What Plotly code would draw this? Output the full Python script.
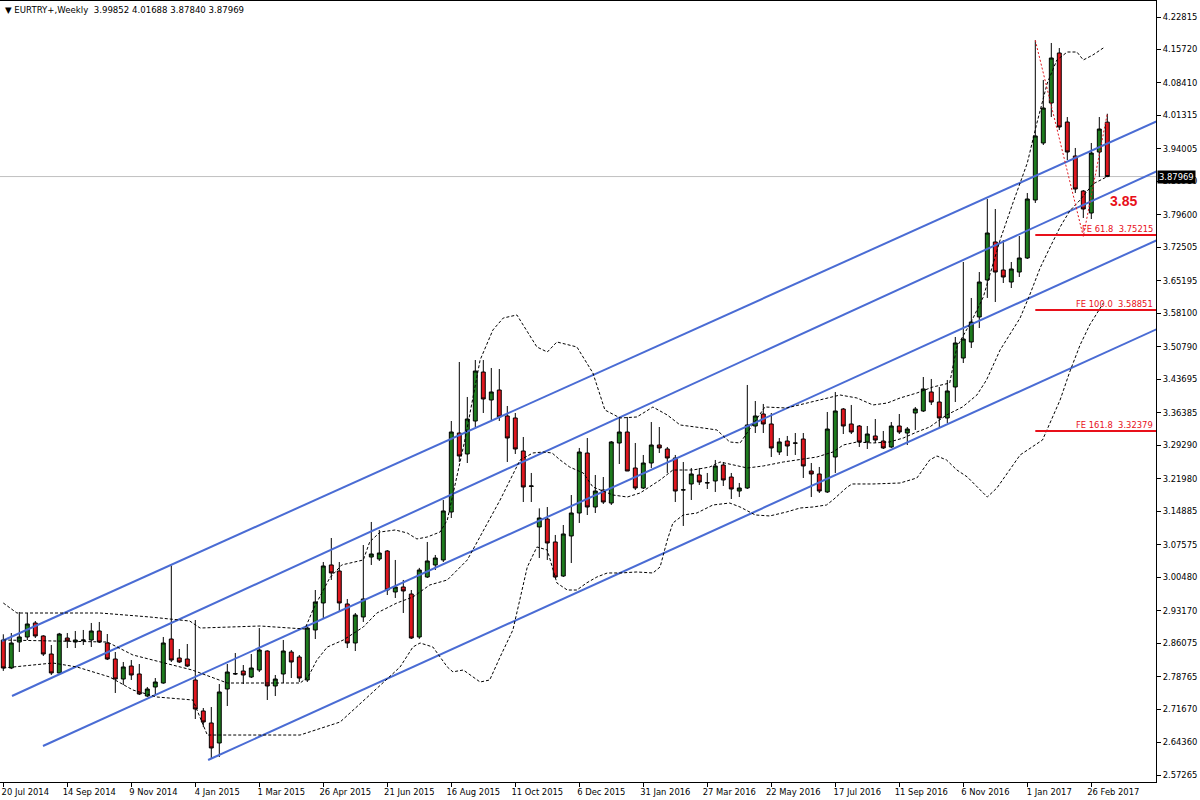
import plotly.graph_objects as go

# ---------------- data ----------------
tick_bars = [0, 8, 16, 24, 32, 40, 48, 56, 64, 72, 80, 88, 96, 104, 112, 120, 128, 136]
tick_labels = ["20 Jul 2014", "14 Sep 2014", "9 Nov 2014", "4 Jan 2015", "1 Mar 2015",
               "26 Apr 2015", "21 Jun 2015", "16 Aug 2015", "11 Oct 2015", "6 Dec 2015",
               "31 Jan 2016", "27 Mar 2016", "22 May 2016", "17 Jul 2016", "11 Sep 2016",
               "6 Nov 2016", "1 Jan 2017", "26 Feb 2017"]

price_ticks = [4.22815, 4.15720, 4.08410, 4.01315, 3.94005, 3.86910, 3.79600, 3.72505,
               3.65195, 3.58100, 3.50790, 3.43695, 3.36385, 3.29290, 3.21980, 3.14885,
               3.07575, 3.00480, 2.93170, 2.86075, 2.78765, 2.71670, 2.64360, 2.57265]

opens = [2.8675, 2.8064, 2.8631, 2.8741, 2.9047, 2.8763, 2.8369, 2.7955, 2.8719, 2.8631,
         2.8660, 2.8675, 2.8872, 2.8610, 2.8260, 2.7823, 2.8107, 2.7933, 2.7452, 2.7649,
         2.7736, 2.8697, 2.8282, 2.8260, 2.7802, 2.7125, 2.6863, 2.6426, 2.7605, 2.7933,
         2.7998, 2.7867, 2.8020, 2.8435, 2.7671, 2.7933, 2.8413, 2.8304, 2.7802, 2.8894,
         2.9484, 3.0314, 3.0182, 2.9462, 2.8610, 2.9178, 3.0488, 3.0444, 3.0619, 2.9724,
         2.9833, 2.9680, 2.8741, 3.0051, 3.0314, 3.0423, 3.1471, 3.3196, 3.2738, 3.3458,
         3.4528, 3.3917, 3.4135, 3.3568, 3.3524, 3.2803, 3.2030, 3.1144, 3.1318, 3.0816,
         3.0073, 3.0947, 3.1449, 3.2759, 3.1580, 3.1951, 3.1667, 3.2978, 3.3218, 3.2432,
         3.1995, 3.2541, 3.2934, 3.2847, 3.2650, 3.1951, 3.2083, 3.2279, 3.2105, 3.2148,
         3.2497, 3.2235, 3.1929, 3.1995, 3.3349, 3.3611, 3.3393, 3.2781, 3.3021, 3.2978,
         3.3065, 3.2366, 3.2301, 3.1908, 3.2672, 3.3720, 3.3393, 3.3349, 3.3000, 3.3131,
         3.3021, 3.2891, 3.3349, 3.3196, 3.3633, 3.3677, 3.4092, 3.3873, 3.3524, 3.4201,
         3.4834, 3.5184, 3.5730, 3.6538, 3.7368, 3.6756, 3.6494, 3.6712, 3.7018, 3.8285,
         3.9530, 4.0403, 4.1495, 3.9988, 3.9246, 3.8481, 3.8001, 3.9333, 3.99852]
highs = [2.8800, 2.8828, 2.9287, 2.9265, 2.9090, 2.8780, 2.8566, 2.8830, 2.8828, 2.8872,
         2.8894, 2.9047, 2.9069, 2.8806, 2.8413, 2.8195, 2.8238, 2.8151, 2.7649, 2.7845,
         2.8741, 3.0300, 2.8479, 2.8588, 2.9112, 2.7190, 2.7212, 2.7714, 2.8151, 2.8391,
         2.8129, 2.8369, 2.8937, 2.8450, 2.7911, 2.8675, 2.8457, 2.8348, 2.8959, 2.9767,
         3.0379, 3.0903, 3.0379, 2.9571, 2.9265, 3.0750, 3.1253, 3.1078, 3.0640, 3.0423,
         2.9986, 2.9767, 3.0250, 3.0816, 3.0532, 3.1733, 3.3458, 3.4747, 3.3983, 3.4790,
         3.4790, 3.4616, 3.4594, 3.3786, 3.3633, 3.3109, 3.2323, 3.1550, 3.1580, 3.0969,
         3.1187, 3.1842, 3.2869, 3.3087, 3.2279, 3.2235, 3.3021, 3.3524, 3.3546, 3.2978,
         3.2716, 3.3436, 3.3327, 3.2891, 3.2716, 3.2563, 3.2432, 3.2432, 3.2323, 3.2607,
         3.2563, 3.2323, 3.2105, 3.4245, 3.3895, 3.3830, 3.3633, 3.3087, 3.3131, 3.3196,
         3.3196, 3.2541, 3.2454, 3.3655, 3.4092, 3.3742, 3.3808, 3.3371, 3.3349, 3.3502,
         3.3240, 3.3436, 3.3611, 3.3327, 3.3764, 3.4419, 3.4376, 3.4201, 3.4354, 3.5293,
         3.6931, 3.6145, 3.6712, 3.8307, 3.8088, 3.7411, 3.6931, 3.7499, 3.8438, 4.1772,
         4.0906, 4.1714, 4.1604, 4.0097, 3.9421, 3.8503, 3.9530, 4.0097, 4.01688]
lows = [2.8000, 2.8040, 2.8413, 2.8675, 2.8719, 2.8326, 2.7911, 2.7911, 2.8500, 2.8500,
        2.8566, 2.8522, 2.8610, 2.8238, 2.7518, 2.7693, 2.7802, 2.7474, 2.7430, 2.7474,
        2.7720, 2.8195, 2.8173, 2.8086, 2.6950, 2.6775, 2.6098, 2.6120, 2.7234, 2.7911,
        2.7714, 2.7845, 2.7976, 2.7365, 2.7452, 2.7736, 2.7845, 2.7758, 2.7758, 2.8697,
        2.9156, 2.9986, 2.9309, 2.8500, 2.8435, 2.9069, 3.0314, 3.0401, 2.9658, 2.9593,
        2.9265, 2.8697, 2.8700, 3.0030, 3.0204, 3.0379, 3.1340, 3.2563, 3.2541, 3.3327,
        3.3633, 3.3480, 3.3458, 3.2563, 3.2738, 3.1689, 3.1689, 3.0466, 3.0423, 3.0029,
        3.0051, 3.0357, 3.1231, 3.1405, 3.1449, 3.1646, 3.1624, 3.2519, 3.2366, 3.1951,
        3.1973, 3.2432, 3.2759, 3.2323, 3.1689, 3.1166, 3.1733, 3.2061, 3.1973, 3.1908,
        3.2039, 3.1755, 3.1798, 3.1973, 3.3196, 3.3196, 3.2672, 3.2716, 3.2694, 3.2716,
        3.2214, 3.1798, 3.1886, 3.1886, 3.2323, 3.3174, 3.3174, 3.2891, 3.2847, 3.2978,
        3.2847, 3.2869, 3.3174, 3.2934, 3.3262, 3.3655, 3.3808, 3.3327, 3.3415, 3.3873,
        3.4725, 3.5053, 3.5489, 3.6145, 3.6057, 3.6472, 3.6363, 3.6603, 3.6996, 3.8220,
        3.9486, 4.0097, 3.9813, 3.9158, 3.8438, 3.7892, 3.7870, 3.8787, 3.87840]
closes = [2.8064, 2.8610, 2.8741, 2.9025, 2.8763, 2.8369, 2.7955, 2.8806, 2.8653, 2.8675,
          2.8675, 2.8872, 2.8631, 2.8260, 2.7823, 2.8086, 2.7911, 2.7496, 2.7605, 2.7758,
          2.8610, 2.8238, 2.8195, 2.8107, 2.7168, 2.6885, 2.6317, 2.7540, 2.7976, 2.7940,
          2.7911, 2.8064, 2.8457, 2.7671, 2.7823, 2.8435, 2.8195, 2.7845, 2.8937, 2.9506,
          3.0292, 3.0139, 2.9484, 2.8610, 2.9221, 2.9571, 3.0554, 3.0575, 2.9767, 2.9833,
          2.9746, 2.8719, 3.0204, 3.0401, 3.0466, 3.1493, 3.3218, 3.2694, 3.3502, 3.4550,
          3.3939, 3.4092, 3.3546, 3.3087, 3.2847, 3.2017, 3.2039, 3.1340, 3.0794, 3.0051,
          3.0991, 3.1449, 3.2781, 3.1580, 3.1929, 3.1689, 3.3000, 3.3218, 3.2366, 3.1995,
          3.2541, 3.2934, 3.2869, 3.2650, 3.1929, 3.1955, 3.2301, 3.2126, 3.2110, 3.2476,
          3.2170, 3.1973, 3.1995, 3.3371, 3.3568, 3.3393, 3.2869, 3.3000, 3.2912, 3.2975,
          3.2476, 3.2301, 3.1929, 3.3283, 3.3677, 3.3349, 3.3218, 3.3000, 3.3174, 3.3043,
          3.2869, 3.3349, 3.3218, 3.3283, 3.3720, 3.4158, 3.3873, 3.3524, 3.4114, 3.5162,
          3.5249, 3.5620, 3.6494, 3.7564, 3.6712, 3.6603, 3.6778, 3.7018, 3.8307, 3.9683,
          4.0294, 4.1386, 3.9879, 3.9333, 3.8525, 3.8088, 3.9311, 3.9835, 3.87969]

# Bollinger bands (dotted), read as (bar, price) pairs
bb_upper_bar = [0, 1.7, 12.1, 18.3, 23.3, 24.6, 32.1, 37.7, 38.7, 40.0, 40.8, 42.3, 45.0, 45.8,
                47.1, 49.0, 50.5, 51.7, 53.0, 54.6, 55.5, 57.7, 59.6, 61.2, 62.5, 64.2, 65.5,
                66.7, 68.0, 69.2, 71.7, 73.7, 75.2, 77.1, 79.2, 81.2, 83.0, 84.6, 87.5, 89.2,
                90.8, 92.1, 95.2, 97.9, 104.6, 106.7, 108.7, 110.5, 112.1, 114.2, 116.2, 118.3,
                119.2, 121.1, 122.5, 124.6, 126.2, 128.0, 129.2, 130.5, 131.7, 133.0, 134.2,
                135.0, 136.2, 137.5]
bb_upper = [2.9483, 2.9265, 2.9265, 2.9178, 2.9090, 2.8937, 2.8981, 2.8915, 2.9331, 2.9767,
            3.0030, 3.0314, 3.0423, 3.0816, 3.1034, 3.1078, 3.1012, 3.0882, 3.0925, 3.1034,
            3.1296, 3.3043, 3.4790, 3.5446, 3.5708, 3.5774, 3.5402, 3.5075, 3.4965, 3.5184,
            3.5075, 3.4507, 3.3699, 3.3524, 3.3546, 3.3764, 3.3589, 3.3371, 3.3305, 3.3262,
            3.3000, 3.2978, 3.3764, 3.3742, 3.4026, 3.3961, 3.3808, 3.3851, 3.3961, 3.4070,
            3.4201, 3.4288, 3.5075, 3.5664, 3.6166, 3.7411, 3.8219, 3.9093, 3.9966, 4.0840,
            4.1343, 4.1517, 4.1517, 4.1343, 4.1452, 4.1605]

bb_middle_bar = [0, 13.0, 16.2, 18.7, 23.6, 28.0, 37.1, 38.1, 39.2, 40.5, 42.5, 45.0, 46.7,
                 49.2, 51.2, 53.3, 55.5, 58.0, 59.6, 62.1, 64.6, 66.2, 67.5, 68.6, 69.6, 70.8,
                 72.5, 73.7, 76.2, 78.0, 79.6, 82.1, 83.7, 86.2, 88.3, 89.6, 93.0, 95.0, 97.5,
                 99.2, 101.7, 103.7, 105.0, 106.7, 108.7, 110.8, 112.5, 114.2, 115.8, 117.9,
                 119.9, 121.7, 122.9, 124.6, 125.8, 127.1, 128.3, 129.6, 130.8, 132.1, 133.3,
                 134.6, 136.2, 137.9]
bb_middle = [2.8675, 2.8631, 2.8348, 2.8238, 2.8020, 2.7736, 2.7736, 2.7867, 2.8238, 2.8522,
             2.8675, 2.8959, 2.9265, 2.9484, 2.9614, 2.9877, 2.9986, 3.0423, 3.0925, 3.1733,
             3.2607, 3.2760, 3.2781, 3.2760, 3.2607, 3.2453, 3.2322, 3.2017, 3.1842, 3.1798,
             3.1886, 3.2170, 3.2388, 3.2388, 3.2453, 3.2563, 3.2432, 3.2476, 3.2563, 3.2607,
             3.2672, 3.2781, 3.2934, 3.3000, 3.2978, 3.3000, 3.3087, 3.3218, 3.3327, 3.3589,
             3.3764, 3.4026, 3.4354, 3.5009, 3.5337, 3.5708, 3.6210, 3.6800, 3.7237, 3.7695,
             3.8045, 3.8285, 3.8634, 3.8787]

bb_lower_bar = [0, 6.2, 9.2, 13.3, 16.2, 19.2, 23.7, 24.2, 25.5, 37.1, 42.1, 45.8, 49.6, 51.2,
                52.1, 53.7, 55.5, 56.2, 57.5, 59.6, 60.8, 62.1, 63.7, 65.5, 66.7, 68.0, 69.2,
                70.5, 71.7, 72.9, 74.2, 75.5, 77.1, 79.2, 81.2, 82.1, 83.0, 83.7, 85.0, 86.7,
                88.7, 90.8, 92.1, 94.0, 95.8, 97.9, 99.6, 101.2, 102.9, 103.7, 105.5, 106.1,
                108.7, 112.1, 114.2, 115.8, 116.7, 117.9, 119.2, 120.5, 121.7, 123.0, 124.2,
                125.8, 127.1, 129.9, 132.1, 133.3, 134.6, 135.8, 137.5]
bb_lower = [2.8064, 2.8173, 2.8086, 2.7867, 2.7583, 2.7430, 2.7365, 2.7147, 2.6600, 2.6600,
            2.6884, 2.7474, 2.8086, 2.8522, 2.8610, 2.8522, 2.8086, 2.7980, 2.8020, 2.7758,
            2.7802, 2.8304, 2.8894, 3.0270, 3.0707, 3.0641, 2.9920, 2.9767, 2.9767, 2.9920,
            3.0051, 3.0139, 3.0139, 3.0161, 3.0139, 3.0270, 3.0860, 3.1231, 3.1406, 3.1449,
            3.1624, 3.1667, 3.1580, 3.1406, 3.1384, 3.1471, 3.1558, 3.1580, 3.1624, 3.1733,
            3.2017, 3.2083, 3.2083, 3.2104, 3.2214, 3.2607, 3.2694, 3.2607, 3.2388, 3.2236,
            3.2017, 3.1798, 3.1995, 3.2388, 3.2716, 3.3043, 3.3917, 3.4529, 3.5119, 3.5556,
            3.6033]

# Equidistant channel lines: start (bar, price) and end (bar, price)
channel_start_bar = [-0.16, 1.09, 4.96, 25.6]
channel_start_price = [2.8653, 2.7452, 2.6360, 2.6054]
channel_end_bar = [146, 146, 146, 146]
channel_end_price = [4.0148, 3.9059, 3.7551, 3.5608]

# Fibonacci expansion anchors (A, B, C) and levels
fe_anchor_bar = [129, 135, 138]
fe_anchor_price = [4.1772, 3.7488, 4.01688]
fe_start_bar = 129
fe_names = ["FE 61.8", "FE 100.0", "FE 161.8"]
fe_levels = [3.75215, 3.58851, 3.32379]

last_price = 3.87969
note_bar = 140
note_price = 3.8263
note_text = "3.85"
title_text = "EURTRY+,Weekly\u00a0\u00a03.99852 4.01688 3.87840 3.87969"

# ---------------- styling ----------------
GREEN = "#1E7B1E"
RED = "#E0161E"
BLUE = "#4A6CD4"
FONT = "DejaVu Sans"

bars = list(range(len(opens)))
fig = go.Figure()

for lo_b, lo_p, hi_b, hi_p in zip(channel_start_bar, channel_start_price, channel_end_bar, channel_end_price):
    fig.add_trace(go.Scatter(x=[lo_b, hi_b], y=[lo_p, hi_p], mode="lines",
                             line=dict(color=BLUE, width=2), hoverinfo="skip"))

for bx, by in [(bb_upper_bar, bb_upper), (bb_middle_bar, bb_middle), (bb_lower_bar, bb_lower)]:
    fig.add_trace(go.Scatter(x=bx, y=by, mode="lines",
                             line=dict(color="black", width=1, dash="3px,2px"), hoverinfo="skip"))

fig.add_trace(go.Candlestick(
    x=bars, open=opens, high=highs, low=lows, close=closes,
    increasing=dict(line=dict(color="black", width=1), fillcolor=GREEN),
    decreasing=dict(line=dict(color="black", width=1), fillcolor=RED),
    whiskerwidth=0, hoverinfo="skip"))

fig.add_trace(go.Scatter(x=fe_anchor_bar, y=fe_anchor_price, mode="lines",
                         line=dict(color=RED, width=1, dash="2px,2px"), hoverinfo="skip"))

for name, lvl in zip(fe_names, fe_levels):
    fig.add_trace(go.Scatter(x=[fe_start_bar, 146], y=[lvl, lvl], mode="lines",
                             line=dict(color="#E8101A", width=2), hoverinfo="skip"))
    fig.add_annotation(x=1, xref="paper", y=lvl, yref="y", xanchor="right", yanchor="bottom",
                       text=f"{name}\u00a0\u00a0{lvl:.5f}", showarrow=False, xshift=-1, yshift=-1,
                       font=dict(family=FONT, size=8.4, color="#E8101A"))

fig.add_shape(type="line", xref="paper", x0=0, x1=1, yref="y", y0=last_price, y1=last_price,
              line=dict(color="#C0C0C0", width=1), layer="below")

fig.add_annotation(x=1, xref="paper", y=last_price, yref="y", xanchor="left", yanchor="middle",
                   text=f"{last_price:.5f}", showarrow=False, bgcolor="black", borderpad=1,
                   xshift=1, font=dict(family=FONT, size=8.4, color="white"))

fig.add_annotation(x=note_bar, y=note_price, text=f"<b>{note_text}</b>", showarrow=False,
                   font=dict(family="Liberation Sans", size=14, color="#E8101A"))

fig.add_annotation(x=0, xref="paper", y=1, yref="paper", xanchor="left", yanchor="top",
                   text="\u25bc\u00a0" + title_text, showarrow=False, xshift=3, yshift=-2,
                   font=dict(family=FONT, size=8.6, color="black"))

fig.update_layout(
    width=1200, height=800, margin=dict(l=0, r=44, t=1, b=18),
    paper_bgcolor="white", plot_bgcolor="white", showlegend=False,
    xaxis=dict(range=[-0.4125, 144.0875], tickvals=tick_bars, ticktext=tick_labels,
               ticks="outside", ticklen=4, tickcolor="black", showgrid=False, zeroline=False,
               showline=True, linecolor="black", linewidth=1, mirror=True,
               rangeslider=dict(visible=False), ticklabelshift=22, ticklabelstandoff=-2,
               tickfont=dict(family=FONT, size=8.4, color="black")),
    yaxis=dict(range=[2.5574, 4.2631], side="right", tickvals=price_ticks,
               ticktext=[f"{v:.5f}" for v in price_ticks],
               ticks="outside", ticklen=4, tickcolor="black", showgrid=False, zeroline=False,
               showline=True, linecolor="black", linewidth=1, mirror=True,
               tickfont=dict(family=FONT, size=8.4, color="black")),
)

fig.write_html("out.html", config={"displayModeBar": False},
               post_script="document.body.style.margin='0';document.body.style.overflow='hidden';")
